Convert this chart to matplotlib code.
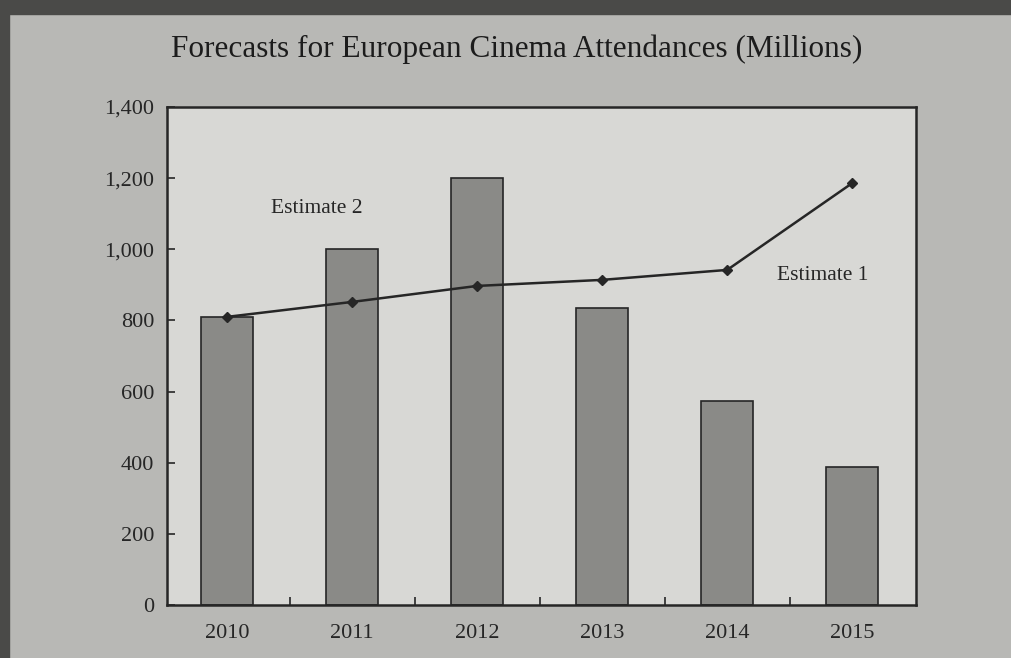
import matplotlib.pyplot as plt
from matplotlib.patches import Rectangle
from matplotlib.ticker import FuncFormatter, MultipleLocator

# forecast years
years = ["2010", "2011", "2012", "2013", "2014", "2015"]

# estimate 2 (bars), millions
estimate_2 = [810, 1000, 1200, 835, 573, 388]

# estimate 1 (line), millions
estimate_1 = [810, 852, 897, 914, 942, 1186]

paper = "#b8b8b5"
panel = "#d8d8d5"
bar_color = "#8a8a87"
ink = "#262626"

plt.rcParams["font.family"] = ["Liberation Serif", "DejaVu Serif"]

fig = plt.figure(figsize=(10.12, 6.58), dpi=100, facecolor=paper)

# dark edge along the top and left of the sheet
fig.patches.append(Rectangle((0, 1 - 14 / 658), 1, 14 / 658,
                             transform=fig.transFigure, color="#4a4a48",
                             zorder=0))
fig.patches.append(Rectangle((0, 0), 9 / 1012, 1,
                             transform=fig.transFigure, color="#4a4a48",
                             zorder=0))

ax = fig.add_axes([167 / 1012, 1 - 605 / 658, 749 / 1012, 498 / 658])
ax.set_facecolor(panel)

x = list(range(len(years)))
ax.bar(x, estimate_2, width=0.42, color=bar_color, edgecolor=ink,
       linewidth=1.2, zorder=2)
ax.plot(x, estimate_1, color=ink, linewidth=1.8, marker="D", markersize=5,
        zorder=3)

ax.set_xlim(-0.48, 5.51)
ax.set_ylim(0, 1400)
ax.set_xticks(x)
ax.set_xticklabels(years)
# separator ticks between the years only
ax.set_xticks([i + 0.5 for i in x[:-1]], minor=True)
ax.yaxis.set_major_locator(MultipleLocator(200))
ax.yaxis.set_major_formatter(FuncFormatter(lambda v, p: f"{int(v):,}"))

ax.tick_params(axis="x", which="major", length=0, pad=14,
               labelsize=16, colors=ink)
ax.tick_params(axis="x", which="minor", direction="in", length=6,
               width=1.2, color=ink)
ax.tick_params(axis="y", direction="in", length=6, width=1.2, pad=9,
               labelsize=16, colors=ink)

for spine in ax.spines.values():
    spine.set_color(ink)
    spine.set_linewidth(1.8)

ax.text(0.72, 1115, "Estimate 2", fontsize=15.5, color=ink,
        ha="center", va="center")
ax.text(4.76, 925, "Estimate 1", fontsize=15.5, color=ink,
        ha="center", va="center")

fig.text(0.511, 1 - 49 / 658,
         "Forecasts for European Cinema Attendances (Millions)",
         fontsize=22.5, color="#1c1c1c", ha="center", va="center")

fig.savefig("out.png", dpi=100, facecolor=fig.get_facecolor())
